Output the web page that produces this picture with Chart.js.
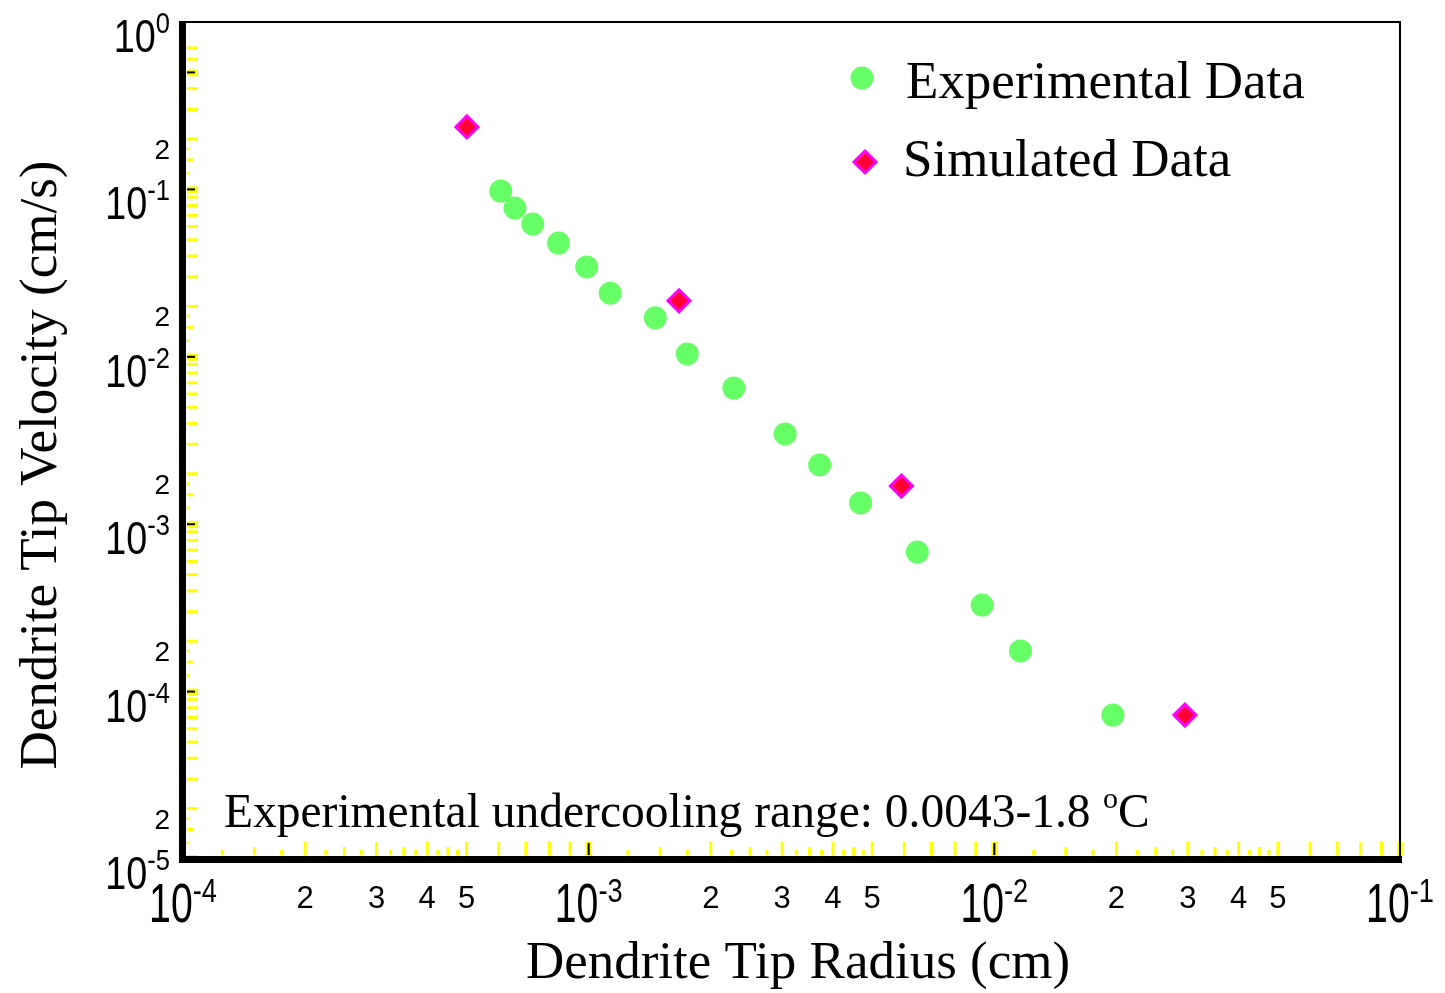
<!DOCTYPE html>
<html>
<head>
<meta charset="utf-8">
<title>Dendrite Tip Velocity vs Radius</title>
<script src="https://cdn.jsdelivr.net/npm/chart.js@4.4.1/dist/chart.umd.min.js"></script>
<style>
  html, body { margin: 0; padding: 0; background: #fff; }
  canvas { display: block; }
</style>
</head>
<body>
<canvas id="dendriteChart" width="1445" height="993"></canvas>
<script>
// values: radius in cm, velocity in cm/s
const expRadius = [6.07e-4, 6.58e-4, 7.28e-4, 8.43e-4, 9.89e-4, 1.13e-3, 1.46e-3, 1.75e-3,
                   2.28e-3, 3.05e-3, 3.71e-3, 4.68e-3, 6.46e-3, 9.33e-3, 1.16e-2, 1.96e-2];
const expVelocity = [0.0977, 0.0774, 0.0621, 0.0478, 0.0344, 0.0240, 0.0171, 0.0104,
                     6.51e-3, 3.46e-3, 2.26e-3, 1.34e-3, 6.82e-4, 3.29e-4, 1.75e-4, 7.24e-5];
const simRadius = [5.01e-4, 1.67e-3, 5.90e-3, 2.95e-2];
const simVelocity = [0.236, 0.0216, 1.69e-3, 7.24e-5];

const seriesNames = ['Experimental Data', 'Simulated Data'];

// axis ticks
const xDecades = [1e-4, 1e-3, 1e-2, 1e-1];
const yDecades = [1e-5, 1e-4, 1e-3, 1e-2, 1e-1, 1e0];
const xMinorLabels = [2, 3, 4, 5];
const yMinorLabels = [2];
const xTickMantissas = [1.25, 1.5, 1.75, 2, 2.25, 2.5, 2.75, 3, 3.25, 3.5, 3.75, 4, 4.25, 4.5, 4.75, 5, 6, 7, 8, 9];
const yTickMantissas = [1.25, 1.5, 1.75, 2, 3, 4, 5, 6, 7, 8, 9];
const yTickMax = 0.75;          // top decade stops at 7 in the original
const yBlackTicks = [1e-5, 1e-4, 1e-3, 1e-2, 1e-1, 5e-1];
const xBlackTicks = [1e-3, 1e-2, 1e-1];

const xTitle = 'Dendrite Tip Radius (cm)';
const yTitle = 'Dendrite Tip Velocity (cm/s)';
const noteText = 'Experimental undercooling range: 0.0043-1.8';

const SANS = '"Liberation Sans", Arial, sans-serif';
const SERIF = '"Liberation Serif", "Times New Roman", serif';

// "10" with a raised exponent, squeezed a bit like the original stroke font
const powerLabel = (ctx, x, base, exp, o) => {
    const sup = String(exp);
    ctx.font = o.big + 'px ' + SANS;
    const w1 = ctx.measureText('10').width * o.sx;
    ctx.font = o.small + 'px ' + SANS;
    const w2 = ctx.measureText(sup).width * o.sxs;
    const x0 = o.align === 'right' ? x - w1 - w2 : x - (w1 + w2) / 2;

    ctx.save();
    ctx.translate(x0, base);
    ctx.scale(o.sx, 1);
    ctx.font = o.big + 'px ' + SANS;
    ctx.fillText('10', 0, 0);
    ctx.restore();

    ctx.save();
    ctx.translate(x0 + w1, base - o.rise);
    ctx.scale(o.sxs, 1);
    ctx.font = o.small + 'px ' + SANS;
    ctx.fillText(sup, 0, 0);
    ctx.restore();
};

const drawDiamond = (ctx, x, y, r, fill, stroke, lw) => {
    ctx.beginPath();
    ctx.moveTo(x, y - r);
    ctx.lineTo(x + r, y);
    ctx.lineTo(x, y + r);
    ctx.lineTo(x - r, y);
    ctx.closePath();
    ctx.fillStyle = fill;
    ctx.fill();
    ctx.lineWidth = lw;
    ctx.strokeStyle = stroke;
    ctx.stroke();
};

const frameAndText = {
    id: 'frameAndText',
    afterDraw(chart) {
        const ctx = chart.ctx;
        const xs = chart.scales.x;
        const ys = chart.scales.y;
        const { left, right, top, bottom } = chart.chartArea;
        ctx.save();

        // yellow ticks pointing inward
        ctx.fillStyle = '#ffff00';
        xDecades.slice(0, -1).forEach(d => {
            xTickMantissas.forEach(m => {
                const px = xs.getPixelForValue(d * m);
                const len = Number.isInteger(m) ? 13 : (m % 1 === 0.5 ? 8 : 5);
                ctx.fillRect(px - 1.5, bottom - 4 - len, 3, len);
            });
        });
        yDecades.slice(0, -1).forEach(d => {
            yTickMantissas.forEach(m => {
                if (d * m > yTickMax) return;
                const py = ys.getPixelForValue(d * m);
                const len = Number.isInteger(m) ? 11 : (m === 1.5 ? 6 : 2.5);
                ctx.fillRect(left + 4, py - 1.5, len, 3);
            });
        });
        // decade ticks: black over a yellow halo
        yBlackTicks.forEach(v => {
            const py = ys.getPixelForValue(v);
            ctx.fillStyle = '#ffff00';
            ctx.fillRect(left + 4, py - 3, 11, 7);
            ctx.fillStyle = '#000';
            ctx.fillRect(left + 4, py - 1, 8, 2);
        });
        xBlackTicks.forEach(v => {
            const px = xs.getPixelForValue(v);
            ctx.fillStyle = '#ffff00';
            ctx.fillRect(px - 3, bottom - 17, 6, 14);
            ctx.fillStyle = '#000';
            ctx.fillRect(px - 1, bottom - 16, 2, 12);
        });
        ctx.strokeStyle = '#ffff00';
        ctx.lineWidth = 2;
        ctx.strokeRect(left - 2, bottom - 3, 16, 6);

        // frame: heavy left and bottom, thin top and right
        ctx.fillStyle = '#000';
        ctx.fillRect(right - 1, top - 1, 2, bottom - top);
        ctx.fillRect(left, top - 1, right - left + 1, 2);
        ctx.fillRect(left - 4, top - 1, 7, bottom - top + 5);
        ctx.fillRect(left - 4, bottom - 3, right - left + 6, 7);

        // tick labels
        ctx.fillStyle = '#000';
        ctx.textAlign = 'left';
        ctx.textBaseline = 'alphabetic';
        xDecades.forEach(d => {
            powerLabel(ctx, xs.getPixelForValue(d), 922, Math.round(Math.log10(d)),
                { big: 56, small: 34, sx: 0.7, sxs: 0.8, rise: 20, align: 'center' });
        });
        yDecades.forEach(d => {
            powerLabel(ctx, 170, ys.getPixelForValue(d) + 30, Math.round(Math.log10(d)),
                { big: 46, small: 30, sx: 0.82, sxs: 0.85, rise: 19, align: 'right' });
        });
        ctx.font = '31px ' + SANS;
        ctx.textAlign = 'center';
        xDecades.slice(0, -1).forEach(d => {
            xMinorLabels.forEach(m => {
                ctx.fillText(String(m), xs.getPixelForValue(d * m), 908);
            });
        });
        ctx.font = '28px ' + SANS;
        ctx.textAlign = 'right';
        yDecades.slice(0, -1).forEach(d => {
            yMinorLabels.forEach(m => {
                ctx.fillText(String(m), 170, ys.getPixelForValue(d * m) + 20);
            });
        });

        // axis titles
        ctx.font = '53px ' + SERIF;
        ctx.textAlign = 'center';
        ctx.fillText(xTitle, 798, 978);
        ctx.save();
        ctx.translate(56, 465);
        ctx.rotate(-Math.PI / 2);
        ctx.fillText(yTitle, 0, 0);
        ctx.restore();

        // legend
        const expSet = chart.data.datasets[0];
        const simSet = chart.data.datasets[1];
        ctx.beginPath();
        ctx.arc(862, 78, expSet.pointRadius, 0, Math.PI * 2);
        ctx.fillStyle = expSet.backgroundColor;
        ctx.fill();
        drawDiamond(ctx, 865, 162, simSet.pointRadius, simSet.backgroundColor, simSet.borderColor, simSet.borderWidth);
        ctx.fillStyle = '#000';
        ctx.textAlign = 'left';
        ctx.font = '53px ' + SERIF;
        ctx.fillText(seriesNames[0], 906, 98);
        ctx.fillText(seriesNames[1], 903, 176);

        // undercooling note with degree-style superscript o
        ctx.font = '47.5px ' + SERIF;
        ctx.fillText(noteText, 224, 827);
        let nx = 1103;
        ctx.font = '30px ' + SERIF;
        ctx.fillText('o', nx, 808);
        nx += ctx.measureText('o').width;
        ctx.font = '47.5px ' + SERIF;
        ctx.fillText('C', nx, 827);

        ctx.restore();
    }
};

new Chart(document.getElementById('dendriteChart').getContext('2d'), {
    type: 'scatter',
    data: {
        datasets: [{
            label: seriesNames[0],
            data: expRadius.map((r, i) => ({ x: r, y: expVelocity[i] })),
            pointStyle: 'circle',
            pointRadius: 11.5,
            backgroundColor: '#66ff66',
            borderWidth: 0
        }, {
            label: seriesNames[1],
            data: simRadius.map((r, i) => ({ x: r, y: simVelocity[i] })),
            pointStyle: 'rectRot',
            pointRadius: 11,
            backgroundColor: '#ff0033',
            borderColor: '#ff00ff',
            borderWidth: 3
        }]
    },
    options: {
        responsive: false,
        animation: false,
        layout: {
            autoPadding: false,
            padding: { left: 183, top: 22, right: 45, bottom: 134 }
        },
        plugins: {
            legend: { display: false },
            tooltip: { enabled: false }
        },
        scales: {
            x: { type: 'logarithmic', min: 1e-4, max: 1e-1, display: false },
            y: { type: 'logarithmic', min: 1e-5, max: 1, display: false }
        }
    },
    plugins: [frameAndText]
});
</script>
</body>
</html>
